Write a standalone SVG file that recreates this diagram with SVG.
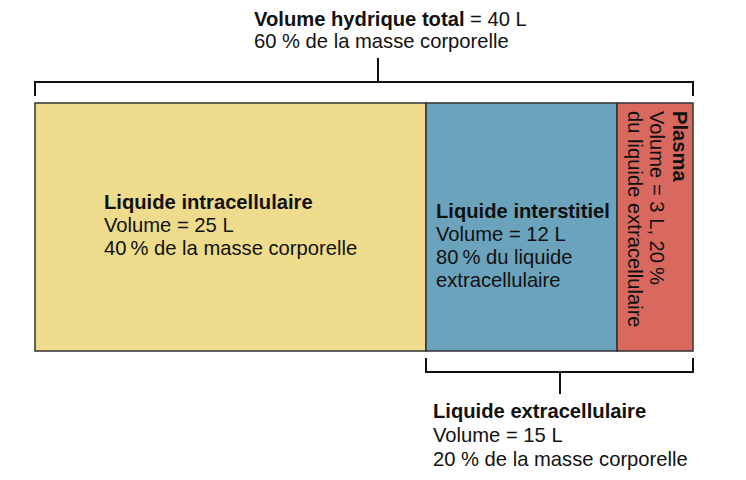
<svg xmlns="http://www.w3.org/2000/svg" width="746" height="480" viewBox="0 0 746 480">
<style>
text{font-family:"Liberation Sans",Arial,sans-serif;font-size:20.2px;fill:#111}
.b{font-weight:bold}
.box{stroke:#333;stroke-width:1.5}
.br{fill:none;stroke:#111;stroke-width:2}
</style>
<rect width="746" height="480" fill="#fff"/>
<g id="title">
<text x="254" y="26"><tspan class="b">Volume hydrique total</tspan> = 40 L</text>
<text x="254" y="48">60 % de la masse corporelle</text>
</g>
<g id="intracellulaire">
<rect class="box" x="35" y="103" width="391" height="248" fill="#EEDC8C"/>
<text x="104" y="209" class="b">Liquide intracellulaire</text>
<text x="104" y="232">Volume = 25 L</text>
<text x="104" y="255">40&#8201;% de la masse corporelle</text>
</g>
<g id="interstitiel">
<rect class="box" x="426" y="103" width="191" height="248" fill="#6BA3BC"/>
<text x="436" y="218" class="b">Liquide interstitiel</text>
<text x="436" y="241">Volume = 12 L</text>
<text x="436" y="264">80&#8201;% du liquide</text>
<text x="436" y="287">extracellulaire</text>
</g>
<g id="plasma">
<rect class="box" x="617" y="103" width="76" height="248" fill="#D9695F"/>
<text transform="translate(673,111) rotate(90)" class="b">Plasma</text>
<text transform="translate(650,111) rotate(90)">Volume = 3 L, 20&#8201;%</text>
<text transform="translate(628,111) rotate(90)">du liquide extracellulaire</text>
</g>
<g id="connectors">
<path class="br" d="M35 96V82H693V96M378 82V58"/>
<path class="br" d="M426 358V372H693V358M560 372V394"/>
</g>
<g id="extracellulaire">
<text x="433" y="418" class="b">Liquide extracellulaire</text>
<text x="433" y="442">Volume = 15 L</text>
<text x="433" y="466">20 % de la masse corporelle</text>
</g>
</svg>
